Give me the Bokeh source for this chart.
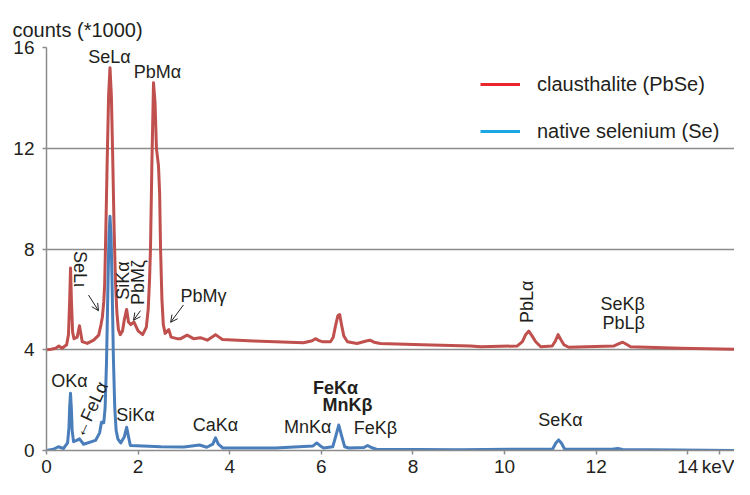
from bokeh.plotting import figure
from bokeh.models import Range1d, FixedTicker, Label, Arrow, OpenHead, Legend, LegendItem
from bokeh.embed import file_html
from bokeh.resources import INLINE

# ---- data ----
kev_red = [0.00, 0.10, 0.20, 0.27, 0.34, 0.44, 0.48, 0.505, 0.525, 0.545, 0.57, 0.60, 0.67, 0.72, 0.78,
           0.89, 1.03, 1.14, 1.19, 1.22, 1.25, 1.27, 1.296, 1.326, 1.356, 1.386, 1.416, 1.446, 1.476,
           1.506, 1.536, 1.57, 1.61, 1.66, 1.70, 1.75, 1.79, 1.84, 1.91, 2.00, 2.10, 2.18, 2.22, 2.25,
           2.27, 2.30, 2.336, 2.37, 2.40, 2.445, 2.47, 2.49, 2.52, 2.55, 2.59, 2.67, 2.72, 2.85, 2.93,
           3.07, 3.21, 3.36, 3.51, 3.69, 3.84, 4.52, 5.61, 5.80, 5.87, 5.95, 6.02, 6.20, 6.26, 6.31,
           6.36, 6.40, 6.44, 6.49, 6.57, 6.78, 6.98, 7.06, 7.15, 7.29, 8.20, 9.26, 9.48, 10.28, 10.39,
           10.46, 10.53, 10.60, 10.68, 10.79, 11.04, 11.11, 11.17, 11.23, 11.30, 11.40, 12.39, 12.50,
           12.58, 12.66, 12.75, 13.84, 15.04]
cps_red = [4.00, 4.02, 4.06, 4.15, 4.06, 4.20, 4.60, 5.90, 7.25, 5.90, 4.70, 4.44, 4.50, 4.95, 4.32,
           4.25, 4.38, 4.58, 5.00, 5.30, 5.90, 6.60, 8.80, 11.60, 14.10, 15.20, 14.10, 11.60, 8.80,
           6.70, 5.50, 4.80, 4.60, 4.75, 5.20, 5.60, 5.10, 5.00, 5.10, 4.75, 4.60, 4.90, 5.60, 6.80,
           8.00, 11.30, 14.60, 13.80, 12.00, 11.30, 10.20, 8.00, 6.00, 5.00, 4.65, 4.80, 4.50, 4.44, 4.44,
           4.58, 4.44, 4.48, 4.38, 4.60, 4.41, 4.35, 4.28, 4.36, 4.44, 4.36, 4.32, 4.32, 4.50, 4.95,
           5.35, 5.40, 5.00, 4.55, 4.32, 4.25, 4.35, 4.38, 4.30, 4.25, 4.20, 4.15, 4.12, 4.15, 4.32,
           4.60, 4.74, 4.55, 4.32, 4.12, 4.15, 4.35, 4.60, 4.40, 4.19, 4.10, 4.15, 4.24,
           4.30, 4.22, 4.12, 4.06, 4.02]

kev_blue = [0.00, 0.15, 0.26, 0.37, 0.46, 0.49, 0.505, 0.524, 0.545, 0.56, 0.59, 0.66, 0.72, 0.81,
            1.07, 1.16, 1.20, 1.25, 1.28, 1.31, 1.34, 1.363, 1.386, 1.41, 1.432, 1.46, 1.49, 1.52,
            1.56, 1.62, 1.70, 1.75, 1.79, 1.83, 2.50, 3.00, 3.34, 3.50, 3.63, 3.69, 3.75, 3.85, 5.00,
            5.82, 5.90, 5.98, 6.05, 6.25, 6.32, 6.38, 6.44, 6.51, 6.60, 6.93, 7.01, 7.09, 7.20, 9.00,
            11.05, 11.12, 11.18, 11.24, 11.31, 12.35, 12.47, 12.58, 15.04]
cps_blue = [0.00, 0.05, 0.15, 0.08, 0.30, 0.90, 1.70, 2.27, 1.60, 0.80, 0.35, 0.40, 0.46, 0.25,
            0.40, 0.70, 1.12, 1.10, 1.70, 3.50, 6.40, 8.50, 9.30, 8.50, 6.60, 3.70, 1.70, 0.80,
            0.45, 0.30, 0.55, 0.92, 0.55, 0.20, 0.15, 0.14, 0.22, 0.13, 0.25, 0.50, 0.25, 0.10, 0.10,
            0.18, 0.30, 0.18, 0.10, 0.15, 0.60, 1.01, 0.60, 0.15, 0.10, 0.12, 0.20, 0.12, 0.05, 0.03,
            0.06, 0.30, 0.42, 0.30, 0.06, 0.05, 0.08, 0.04, 0.00]

x_ticks = [0, 2, 4, 6, 8, 10, 12, 14]
y_ticks = [0, 4, 8, 12, 16]
grid_ticks = [4, 8, 12, 16]

series_names = ["clausthalite (PbSe)", "native selenium (Se)"]
y_title = "counts (*1000)"
x_title = "keV"
x_title_at = 14.70   # position of the unit text on the x-axis label row

# peak labels: (text, keV, counts, angle in degrees, bold)
peak_labels = [
    ("SeL\u03b1", 1.376, 15.61, 0, False),
    ("PbM\u03b1", 2.42, 15.03, 0, False),
    ("SeL\u03b9", 0.742, 7.21, -90, False),
    ("SiK\u03b1", 1.68, 6.75, 90, False),
    ("PbM\u03b6", 1.99, 6.67, 90, False),
    ("PbM\u03b3", 3.43, 6.13, 0, False),
    ("PbL\u03b1", 10.50, 5.90, 90, False),
    ("SeK\u03b2", 12.58, 5.82, 0, False),
    ("PbL\u03b2", 12.60, 5.05, 0, False),
    ("OK\u03b1", 0.50, 2.74, 0, False),
    ("\u2190FeL\u03b1", 0.96, 1.62, 65, False),
    ("SiK\u03b1", 1.94, 1.39, 0, False),
    ("CaK\u03b1", 3.69, 1.00, 0, False),
    ("MnK\u03b1", 5.70, 0.93, 0, False),
    ("FeK\u03b1", 6.31, 2.47, 0, True),
    ("MnK\u03b2", 6.57, 1.81, 0, True),
    ("FeK\u03b2", 7.18, 0.89, 0, False),
    ("SeK\u03b1", 11.22, 1.20, 0, False),
]

# arrows: (x_start, y_start, x_end, y_end) in keV / counts
arrows = [
    (0.917, 6.17, 1.135, 5.55),
    (2.05, 5.55, 1.90, 5.17),
    (2.99, 5.78, 2.71, 5.09),
]

FONT = "Liberation Sans"
TXT = "#231F20"
GRID = "#8C8C8C"

p = figure(width=734, height=479, output_backend="svg", toolbar_location=None,
           x_range=Range1d(0, 15.02), y_range=Range1d(0, 16),
           min_border_left=46, min_border_right=0, min_border_top=47, min_border_bottom=26)
p.outline_line_color = None
p.background_fill_color = "white"

# y-axis title drawn as the plot title, pulled left over the tick labels
p.title.text = y_title
p.title.align = "left"
p.title.offset = -34
p.title.standoff = 14
p.title.text_font = FONT
p.title.text_font_size = "20px"
p.title.text_font_style = "normal"
p.title.text_color = TXT

for ax in (p.xaxis[0], p.yaxis[0]):
    ax.axis_line_color = GRID
    ax.axis_line_width = 1.5
    ax.major_tick_line_color = GRID
    ax.major_tick_line_width = 1.5
    ax.major_tick_in = 0
    ax.major_tick_out = 4
    ax.minor_tick_line_color = None
    ax.major_label_text_font = FONT
    ax.major_label_text_font_size = "19px"
    ax.major_label_text_color = TXT
p.yaxis.ticker = FixedTicker(ticks=y_ticks)
p.yaxis.major_label_standoff = 8
p.xaxis.major_label_standoff = 1
p.xaxis.ticker = FixedTicker(ticks=x_ticks + [x_title_at])
p.xaxis.major_label_overrides = {x_title_at: x_title}

p.xgrid.visible = False
p.ygrid.ticker = FixedTicker(ticks=grid_ticks)
p.ygrid.grid_line_color = GRID
p.ygrid.grid_line_width = 1.5

p.line(kev_red, cps_red, line_color="#C0504D", line_width=3, line_join="round")
p.line(kev_blue, cps_blue, line_color="#4A7EBB", line_width=3, line_join="round")

# legend swatches (brighter colours as in the reference); single NaN point draws nothing
nan = float("nan")
r1 = p.line([nan], [nan], line_color="#E8262C", line_width=3)
r2 = p.line([nan], [nan], line_color="#1BA6E4", line_width=3)
legend = Legend(items=[LegendItem(label=series_names[0], renderers=[r1]),
                       LegendItem(label=series_names[1], renderers=[r2])],
                location=(434, 307), border_line_color=None, background_fill_alpha=0,
                label_text_font=FONT, label_text_font_size="20px", label_text_color=TXT,
                glyph_width=40, glyph_height=24, label_height=24, label_standoff=17,
                spacing=23, padding=0, margin=0)
p.add_layout(legend)

for text, x, y, ang, bold in peak_labels:
    p.add_layout(Label(x=x, y=y, text=text, angle=ang, angle_units="deg",
                       text_font=FONT, text_font_size="18px", text_color=TXT,
                       text_font_style="bold" if bold else "normal",
                       text_align="center", text_baseline="middle"))

for xs, ys, xe, ye in arrows:
    p.add_layout(Arrow(x_start=xs, y_start=ys, x_end=xe, y_end=ye,
                       line_color=TXT, line_width=1,
                       end=OpenHead(size=7, line_color=TXT, line_width=1)))

open("out.html", "w").write(file_html(p, INLINE))
